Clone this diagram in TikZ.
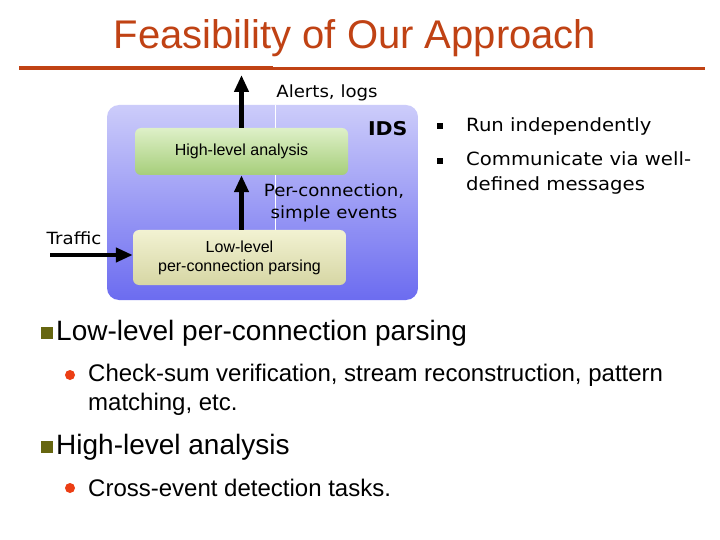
\documentclass[tikz,border=0pt]{standalone}
\usepackage{fontspec}
\setmainfont{Liberation Sans}
\newfontfamily\verdfont[FakeStretch=1.08]{DejaVu Sans}
\usetikzlibrary{arrows.meta, positioning}
\definecolor{titlered}{RGB}{192,66,20}
\definecolor{idstop}{RGB}{204,204,250}
\definecolor{idsbottom}{RGB}{108,108,240}
\definecolor{hightop}{RGB}{222,240,200}
\definecolor{highbottom}{RGB}{166,206,122}
\definecolor{lowtop}{RGB}{242,242,210}
\definecolor{lowbottom}{RGB}{214,214,164}
\definecolor{olivebullet}{RGB}{102,102,16}
\definecolor{dotred}{RGB}{236,62,20}

\begin{document}
\begin{tikzpicture}[x=1pt, y=-1pt,
    idsbox/.style={rounded corners=12pt, top color=idstop, bottom color=idsbottom, minimum width=311pt, minimum height=195pt},
    stagebox/.style={rounded corners=6pt, align=center, font=\fontsize{16}{19}\selectfont},
    bigarrow/.style={-{Triangle[length=17pt, width=14pt]}, line width=4.5pt},
    diaglabel/.style={font=\verdfont\fontsize{16.8}{22}\selectfont, align=center},
    sidetext/.style={font=\verdfont\fontsize{18.2}{25}\selectfont, anchor=west, inner sep=0pt},
    maintext/.style={font=\fontsize{28}{32}\selectfont, anchor=west, inner sep=0pt},
    subtext/.style={font=\fontsize{24}{28}\selectfont, anchor=west, inner sep=0pt}]
  \useasboundingbox[fill=white] (0,0) rectangle (720,540);
  % Title
  \node[font=\fontsize{40}{44}\selectfont, text=titlered] (title) at (355,38) {Feasibility of Our Approach};
  \draw[titlered, line width=4pt] (19,68) -- (273,68);
  \draw[titlered, line width=3pt] (273,69) -- (705,69);
  % IDS
  \node[idsbox] (ids) at (262.5,202.5) {};
  \draw[white, line width=1pt] (275,105) -- (275,230);
  \node[font=\verdfont\bfseries\fontsize{19}{22}\selectfont, anchor=east] (idslabel) at (411,129) {IDS};
  % Stages
  \node[stagebox, top color=hightop, bottom color=highbottom, minimum width=213pt, minimum height=47pt] (high) at (241.5,151.5) {High-level analysis};
  \node[stagebox, top color=lowtop, bottom color=lowbottom, minimum width=213pt, minimum height=55pt] (low) at (239.5,257.5) {Low-level\\per-connection parsing};
  % Arrows
  \coordinate (alertsout) at (241.5,75);
  \draw[bigarrow] (high.north) -- (alertsout);
  \node[diaglabel] (alerts) at (327,93) {Alerts, logs};
  \draw[bigarrow] (low.north -| high.south) -- (high.south);
  \node[diaglabel] (events) at (334,203) {Per-connection,\\simple events};
  \coordinate (trafficin) at (50,255);
  \draw[bigarrow] (trafficin) -- (low.west |- trafficin);
  \node[diaglabel] (traffic) at (74,238) {Traffic};
  % Side bullets
  \fill (437,123) rectangle ++(6,6);
  \node[sidetext] (run) at (466,126) {Run independently};
  \fill (437,158) rectangle ++(6,6);
  \node[sidetext, align=left] (comm) at (466,173) {Communicate via well-\\defined messages};
  % Main bullets
  \fill[olivebullet] (41,327) rectangle ++(12,12);
  \node[maintext] (lowitem) at (56,333) {Low-level per-connection parsing};
  \fill[dotred] (70,375) circle (5);
  \node[subtext] (lowsub) at (88,375) {Check-sum verification, stream reconstruction, pattern};
  \node[subtext] (lowsubb) at (88,404) {matching, etc.};
  \fill[olivebullet] (41,441) rectangle ++(12,12);
  \node[maintext] (highitem) at (56,447) {High-level analysis};
  \fill[dotred] (70,488) circle (5);
  \node[subtext] (highsub) at (88,488) {Cross-event detection tasks.};
\end{tikzpicture}
\end{document}
